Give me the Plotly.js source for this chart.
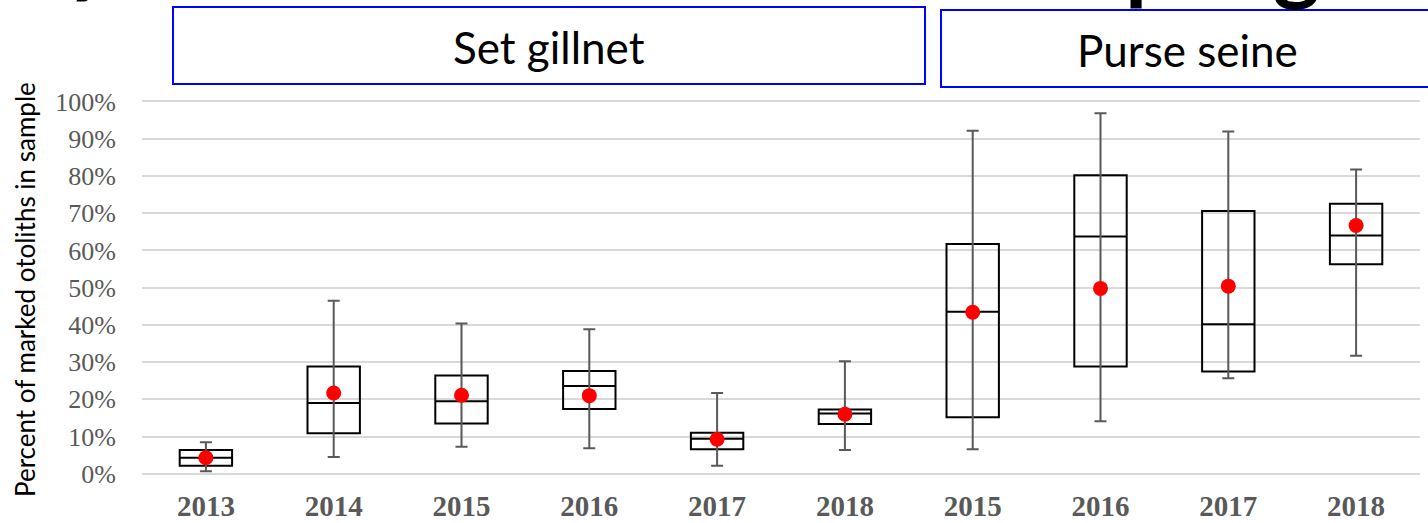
<!DOCTYPE html>
<html>
<head>
<meta charset="utf-8">
<script src="https://cdn.plot.ly/plotly-3.0.1.min.js"></script>
<style>html,body{margin:0;padding:0;background:#fff;}#chart{width:1428px;height:523px;}</style>
</head>
<body>
<div id="chart"></div>
<script>
// ---- data (fractions of sample that are marked otoliths) ----
const yearLabels = ['2013','2014','2015','2016','2017','2018','2015','2016','2017','2018'];
const gearGroups = ['Set gillnet','Set gillnet','Set gillnet','Set gillnet','Set gillnet','Set gillnet',
                    'Purse seine','Purse seine','Purse seine','Purse seine'];
const minVals    = [0.007, 0.045, 0.073, 0.069, 0.022, 0.064, 0.066, 0.141, 0.257, 0.317];
const q1Vals     = [0.022, 0.109, 0.135, 0.174, 0.066, 0.134, 0.152, 0.288, 0.275, 0.563];
const medianVals = [0.043, 0.190, 0.195, 0.236, 0.094, 0.162, 0.435, 0.637, 0.402, 0.640];
const q3Vals     = [0.064, 0.288, 0.264, 0.276, 0.110, 0.173, 0.617, 0.802, 0.706, 0.725];
const maxVals    = [0.085, 0.465, 0.404, 0.388, 0.217, 0.302, 0.921, 0.968, 0.919, 0.817];
const meanVals   = [0.043, 0.217, 0.211, 0.210, 0.093, 0.160, 0.434, 0.498, 0.504, 0.667];
const groupNames = ['Set gillnet', 'Purse seine'];
const yTitle = 'Percent of marked otoliths in sample';

// ---- layout helpers ----
const W = 1428, H = 523;
const M = {l: 142, r: 8, t: 94, b: 38};
const PW = W - M.l - M.r, PH = H - M.t - M.b;
const px = x => (x - M.l) / PW;          // pixel x -> paper x
const py = y => (H - M.b - y) / PH;      // pixel y -> paper y

const xPos = yearLabels.map((_, i) => i);

const traces = [
  {
    type: 'box',
    x: xPos,
    q1: q1Vals, median: medianVals, q3: q3Vals,
    lowerfence: q1Vals, upperfence: q3Vals,
    width: 0.41,
    whiskerwidth: 0,
    line: {color: '#000000', width: 2},
    fillcolor: 'rgba(0,0,0,0)',
    hoverinfo: 'skip',
    showlegend: false
  },
  {
    type: 'scatter',
    mode: 'markers',
    x: xPos,
    y: meanVals,
    marker: {color: '#ff0000', size: 15},
    error_y: {
      type: 'data', symmetric: false,
      array: maxVals.map((v, i) => v - meanVals[i]),
      arrayminus: meanVals.map((v, i) => v - minVals[i]),
      color: '#595959', thickness: 2, width: 6
    },
    cliponaxis: false,
    showlegend: false
  }
];

const headerFont = {family: 'Lato, "Open Sans", sans-serif', size: 44, color: '#000000'};
const fragFont = {family: 'Lato, sans-serif', size: 90, color: '#000000', weight: 'bold'};

const layout = {
  width: W, height: H,
  margin: M,
  paper_bgcolor: '#ffffff', plot_bgcolor: '#ffffff',
  showlegend: false,
  xaxis: {
    range: [-0.5, 9.5],
    tickvals: xPos, ticktext: yearLabels,
    showgrid: false, zeroline: false, showline: false, ticks: '',
    tickfont: {family: '"Liberation Serif", "Times New Roman", serif', size: 29, color: '#595959', weight: 'bold'},
    ticklabelstandoff: 1
  },
  yaxis: {
    range: [-0.03, 1.02],
    tickvals: [0,0.1,0.2,0.3,0.4,0.5,0.6,0.7,0.8,0.9,1.0],
    tickformat: '.0%',
    showgrid: true, gridcolor: '#d9d9d9', gridwidth: 2,
    zeroline: false, showline: false, ticks: '',
    tickfont: {family: '"Liberation Serif", "Times New Roman", serif', size: 26, color: '#595959'},
    ticklabelstandoff: 25
  },
  shapes: [
    {type: 'rect', xref: 'paper', yref: 'paper', x0: px(173), x1: px(925), y0: py(84), y1: py(7),
     line: {color: '#0000ff', width: 2}, fillcolor: 'rgba(0,0,0,0)'},
    {type: 'rect', xref: 'paper', yref: 'paper', x0: px(941), x1: px(1440), y0: py(87), y1: py(10),
     line: {color: '#0000ff', width: 2}, fillcolor: 'rgba(0,0,0,0)'}
  ],
  annotations: [
    {xref: 'paper', yref: 'paper', x: px(549), y: py(47), text: groupNames[0], showarrow: false,
     xanchor: 'center', yanchor: 'middle', font: headerFont},
    {xref: 'paper', yref: 'paper', x: px(1187), y: py(50), text: groupNames[1], showarrow: false,
     xanchor: 'center', yanchor: 'middle', font: headerFont},
    {xref: 'paper', yref: 'paper', x: px(25), y: py(290), text: yTitle, showarrow: false,
     textangle: -90, xanchor: 'center', yanchor: 'middle',
     font: {family: 'Lato, "Open Sans", sans-serif', size: 26, color: '#000000'}},
    // descenders of the cut-off slide title above the chart
    {xref: 'paper', yref: 'paper', x: px(90), y: py(7), text: 'y', showarrow: false,
     xanchor: 'center', yanchor: 'bottom', font: fragFont},
    {xref: 'paper', yref: 'paper', x: px(1150), y: py(14), text: 'p', showarrow: false,
     xanchor: 'center', yanchor: 'bottom', font: fragFont},
    {xref: 'paper', yref: 'paper', x: px(1297), y: py(14), text: 'g', showarrow: false,
     xanchor: 'center', yanchor: 'bottom', font: fragFont}
  ]
};

Plotly.newPlot('chart', traces, layout, {staticPlot: true, displayModeBar: false});
</script>
</body>
</html>
